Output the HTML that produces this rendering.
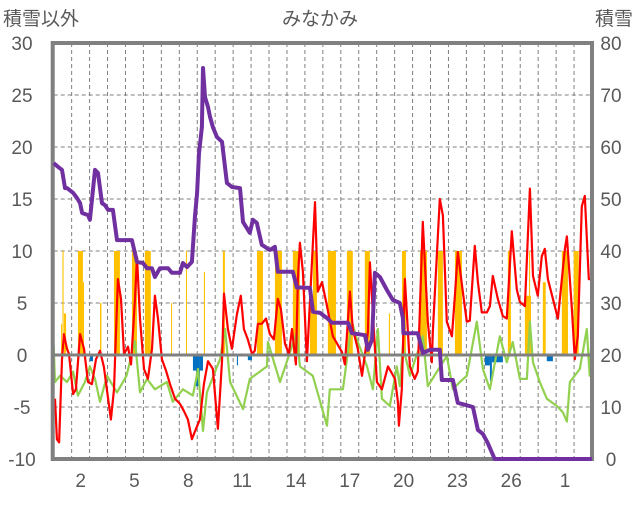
<!DOCTYPE html>
<html><head><meta charset="utf-8">
<style>
html,body{margin:0;padding:0;background:#fff;}
body{width:636px;height:501px;overflow:hidden;font-family:"Liberation Sans","Noto Sans CJK JP",sans-serif;}
svg text{font-family:"Liberation Sans","Noto Sans CJK JP",sans-serif;fill:#595959;}
</style></head>
<body>
<svg id="chart" width="636" height="501" viewBox="0 0 636 501" xmlns="http://www.w3.org/2000/svg">
<g id="grid"></g>
<g id="bars"></g>
<g id="lines"></g>
<g id="frame"></g>
<g id="snow"></g>
<g id="labels"></g>
<text x="320" y="25" font-size="19" text-anchor="middle">みなかみ</text>
<text x="3" y="25" font-size="19">積雪以外</text>
<text x="633" y="25" font-size="19" text-anchor="end">積雪</text>
</svg>
<script>
// ---- data ----
const xTickLabels = ["2","5","8","11","14","17","20","23","26","1"];
const xTickDays = [1,4,7,10,13,16,19,22,25,28];
const leftTicks = [30,25,20,15,10,5,0,-5,-10];
const rightTicks = [80,70,60,50,40,30,20,10,0];

const redT = [0.07,0.18,0.30,0.46,0.57,0.74,0.85,1.08,1.24,1.47,1.69,1.91,2.13,2.36,2.58,2.80,3.03,3.19,3.36,3.58,3.75,3.92,4.14,4.31,4.53,4.64,4.81,5.03,5.25,5.48,5.64,5.81,6.03,6.26,6.48,6.76,7.04,7.26,7.48,7.70,7.93,8.15,8.37,8.60,8.87,9.15,9.38,9.49,9.71,9.93,10.21,10.43,10.60,10.82,11.05,11.21,11.38,11.60,11.83,12.05,12.27,12.49,12.66,12.89,13.11,13.28,13.50,13.61,13.72,13.89,14.11,14.56,14.72,14.95,15.23,15.56,16.06,16.23,16.51,16.67,16.95,17.18,17.51,17.62,18.01,18.29,18.63,19.02,19.18,19.24,19.40,19.57,19.85,20.12,20.29,20.57,20.85,21.07,21.13,21.52,21.69,21.91,22.19,22.36,22.52,22.80,23.02,23.19,23.47,23.64,23.86,24.14,24.31,24.47,24.75,25.03,25.25,25.53,25.81,25.98,26.26,26.54,26.71,26.98,27.20,27.37,27.54,27.82,28.10,28.49,28.60,28.88,29.04,29.21,29.43,29.60,29.82,29.93];
const redV = [-4.2,-8.1,-8.4,-0.4,2.0,0.6,0.1,-3.75,-3.3,2.0,0.6,-2.6,-2.8,-0.4,0.4,-1.15,-4.2,-6.2,-3.3,7.3,5.4,0.1,0.8,-0.9,5.4,9.4,3.5,-1.35,-2.3,0.6,5.7,3.5,-0.4,-1.5,-2.8,-4.2,-4.7,-5.4,-6.2,-8.1,-7.1,-6.2,-2.8,-0.6,-1.35,-7.1,-0.6,5.9,2.5,0.6,3.9,5.7,2.5,1.5,0.1,0.4,3.0,3.0,3.5,2.0,1.5,5.4,4.4,1.1,0.1,2.5,-0.9,7.3,10.8,8.0,-0.6,14.7,6.1,7.0,4.7,1.8,0.3,-0.9,6.1,2.5,0.6,-2.0,2.2,8.9,-2.6,-3.3,-1.1,-2.3,-4.5,-6.8,-3.3,7.3,-1.1,-2.3,-1.6,12.8,3.2,-0.7,2.2,15.0,13.4,3.2,1.8,5.7,9.9,6.1,3.2,3.3,10.5,7.0,4.1,4.1,4.7,7.6,5.4,3.75,3.5,11.9,6.3,5.1,4.7,16.0,7.6,5.7,9.5,10.2,7.3,5.4,3.5,10.2,11.4,4.4,-0.4,1.8,14.3,15.3,7.3,7.3];

const greenT = [0,0.07,0.35,0.74,1.08,1.35,1.74,2.02,2.30,2.58,2.97,3.53,4.06,4.53,4.81,5.20,5.64,6.31,6.64,7.20,7.76,8.04,8.32,8.54,9.27,9.55,9.83,10.55,10.93,11.88,11.94,12.61,13.55,13.72,14.44,15.23,15.39,16.12,16.62,16.90,17.46,17.79,18.07,18.29,18.73,19.12,19.29,19.46,19.85,20.57,20.85,21.91,22.25,22.64,23.02,23.58,23.92,24.31,24.86,25.25,25.58,25.98,26.37,26.54,26.71,27.09,27.48,28.04,28.37,28.60,28.77,29.32,29.71,29.87,29.98];
const greenV = [0.9,-2.6,-2.0,-2.6,-1.6,-3.9,-2.6,-1.1,-2.3,-4.5,-2.0,-3.6,-2.0,1.35,-3.6,-2.3,-3.3,-2.6,-4.5,-3.3,-3.9,-1.35,-7.3,-3.6,-0.4,2.5,-2.6,-5.2,-2.3,-1.1,1.25,-2.6,2.2,-1.1,-2.0,-6.8,-3.3,-3.3,3.2,1.5,-1.1,-3.3,2.5,-4.2,-4.9,-1.1,-3.0,0.9,-2.0,1.8,-3.0,-0.1,-3.3,-2.6,-2.0,3.2,-1.35,-3.3,1.8,-0.7,1.25,-2.3,-2.3,3.2,-0.7,-2.6,-4.2,-4.9,-5.5,-6.4,-2.6,-1.35,2.5,-2.0,1.8];

const snowT = [0,0.24,0.46,0.63,0.74,1.08,1.30,1.47,1.58,1.91,2.02,2.30,2.47,2.69,2.86,3.03,3.30,3.53,4.36,4.64,4.97,5.20,5.48,5.64,5.92,6.37,6.59,7.04,7.20,7.43,7.70,7.87,7.99,8.10,8.26,8.32,8.43,8.60,8.71,8.87,9.10,9.38,9.65,9.93,10.38,10.55,10.93,11.10,11.32,11.60,12.05,12.33,12.49,13.33,13.55,14.28,14.45,14.84,15.23,15.51,16.40,16.62,17.35,17.51,17.74,17.90,18.18,18.57,18.90,19.29,19.46,19.49,20.29,20.57,20.96,21.52,21.63,22.25,22.52,23.36,23.64,23.92,24.19,24.58,30];
const snowV = [56.9,56.2,55.6,52.1,52.1,51.2,50.2,49.2,47.3,46.9,46.0,55.6,55.0,49.2,48.8,47.9,47.9,42.1,42.1,37.9,37.7,36.7,36.7,35.0,36.7,36.7,35.8,35.8,37.7,36.9,37.9,46.5,51.2,58.8,63.8,75.2,69.6,67.7,65.8,63.8,61.9,61.0,53.1,52.3,52.1,45.6,43.5,46.0,45.4,41.2,40.2,40.8,36.0,36.0,33.0,32.9,28.3,28.1,27.1,26.2,26.2,24.2,23.8,21.0,22.9,35.8,35.0,32.5,30.6,30.0,27.1,24.2,24.2,20.4,21.0,21.0,15.2,15.2,10.8,10.0,5.6,4.8,3.1,0,0];

const precipStart = [0.41,0.49,0.57,1.35,1.63,2.58,3.36,4.36,5.08,6.54,7.37,8.37,9.43,11.33,12.33,13.33,14.28,14.45,15.28,16.34,17.34,18.68,19.41,20.41,21.41,22.36,25.31,26.26,26.49,27.26,28.32,28.98];
const precipEnd   = [0.46,0.55,0.69,1.63,1.69,2.66,3.69,4.64,5.41,6.59,7.43,8.43,9.54,11.66,12.72,13.72,14.45,14.67,15.73,16.67,17.62,18.74,19.63,20.80,21.69,22.75,25.48,26.60,26.55,27.42,28.66,29.26];
const precipVal   = [3,10,4,10,7,5,10,10,10,5,10,8,10,10,10,10,5,10,10,10,10,4,10,10,10,10,10,5.7,10,7,10,10];

const negStart = [2.02,7.76,7.93,8.15,10.21,10.82,17.90,24.03,24.31,24.42,27.48];
const negEnd   = [2.19,7.93,8.15,8.32,10.27,11.05,17.96,24.31,24.42,25.03,27.82];
const negVal   = [-0.6,-1.5,-3,-1.5,-1,-0.5,-0.5,-1,-2.5,-0.7,-0.6];

// ---- scales ----
const X0 = 53.7, X1 = 592, DAYS = 30, Y0 = 43, Y1 = 459;
const dayW = (X1 - X0) / DAYS;
function xs(t){ return X0 + t * dayW; }
function yl(v){ return Y1 - (v + 10) / 40 * (Y1 - Y0); }
function yr(v){ return Y1 - v / 80 * (Y1 - Y0); }
const NS = "http://www.w3.org/2000/svg";
function mk(tag, parent, attrs){
  const e = document.createElementNS(NS, tag);
  for (const k in attrs) e.setAttribute(k, attrs[k]);
  parent.appendChild(e); return e;
}
const grid = document.getElementById('grid');
const bars = document.getElementById('bars');
const lines = document.getElementById('lines');
const frame = document.getElementById('frame');
const snow = document.getElementById('snow');
const labels = document.getElementById('labels');

for (let k = 1; k < DAYS; k++) {
  const l = mk('line', grid, {x1: xs(k), x2: xs(k), y1: Y0, y2: Y1, stroke: '#7f7f7f', 'stroke-width': 1, 'stroke-dasharray': '4,3'});
  
  
}
leftTicks.forEach(v => {
  if (v === 30 || v === -10 || v === 0) return;
  const l = mk('line', grid, {x1: X0, x2: X1, y1: yl(v), y2: yl(v), stroke: '#7f7f7f', 'stroke-width': 1, 'stroke-dasharray': '4,3'});
  
  
});

for (let i = 0; i < precipVal.length; i++) {
  const x = xs(precipStart[i]), w = Math.max(1, xs(precipEnd[i]) - x);
  const y = yl(precipVal[i]);
  const r = mk('rect', bars, {x: x, y: y, width: w, height: yl(0) - y, fill: '#FFC000'});
  
  
}
for (let i = 0; i < negVal.length; i++) {
  const x = xs(negStart[i]), w = Math.max(1, xs(negEnd[i]) - x);
  const r = mk('rect', bars, {x: x, y: yl(0), width: w, height: yl(negVal[i]) - yl(0), fill: '#0070C0'});
  
  
}

function path(T, V, yf){
  return T.map((t, i) => (i ? 'L' : 'M') + xs(t).toFixed(1) + ',' + yf(V[i]).toFixed(1)).join('');
}
const g = mk('path', lines, {d: path(greenT, greenV, yl), fill: 'none', stroke: '#92D050', 'stroke-width': 2.2, 'stroke-linejoin': 'round'});


const rl = mk('path', lines, {d: path(redT, redV, yl), fill: 'none', stroke: '#FF0000', 'stroke-width': 2.2, 'stroke-linejoin': 'round'});



const z = mk('line', frame, {x1: X0, x2: X1, y1: yl(0), y2: yl(0), stroke: '#808080', 'stroke-width': 3});


const fr = mk('rect', frame, {x: X0 - 1, y: Y0, width: X1 - X0 + 1, height: Y1 - Y0, fill: 'none', stroke: '#808080', 'stroke-width': 4});



const sl = mk('path', snow, {d: path(snowT, snowV, yr), fill: 'none', stroke: '#7030A0', 'stroke-width': 4, 'stroke-linejoin': 'round'});



leftTicks.forEach(v => {
  const t = mk('text', labels, {x: 22, y: yl(v) + 7, 'font-size': 19, 'text-anchor': 'middle'});
  t.textContent = String(v);
  
  
});
rightTicks.forEach(v => {
  const t = mk('text', labels, {x: 611, y: yr(v) + 7, 'font-size': 19, 'text-anchor': 'middle'});
  t.textContent = String(v);
  
  
});
xTickLabels.forEach((s, i) => {
  const t = mk('text', labels, {x: xs(xTickDays[i] + 0.5), y: 487, 'font-size': 19, 'text-anchor': 'middle'});
  t.textContent = s;
  
  
});
</script>
</body></html>
